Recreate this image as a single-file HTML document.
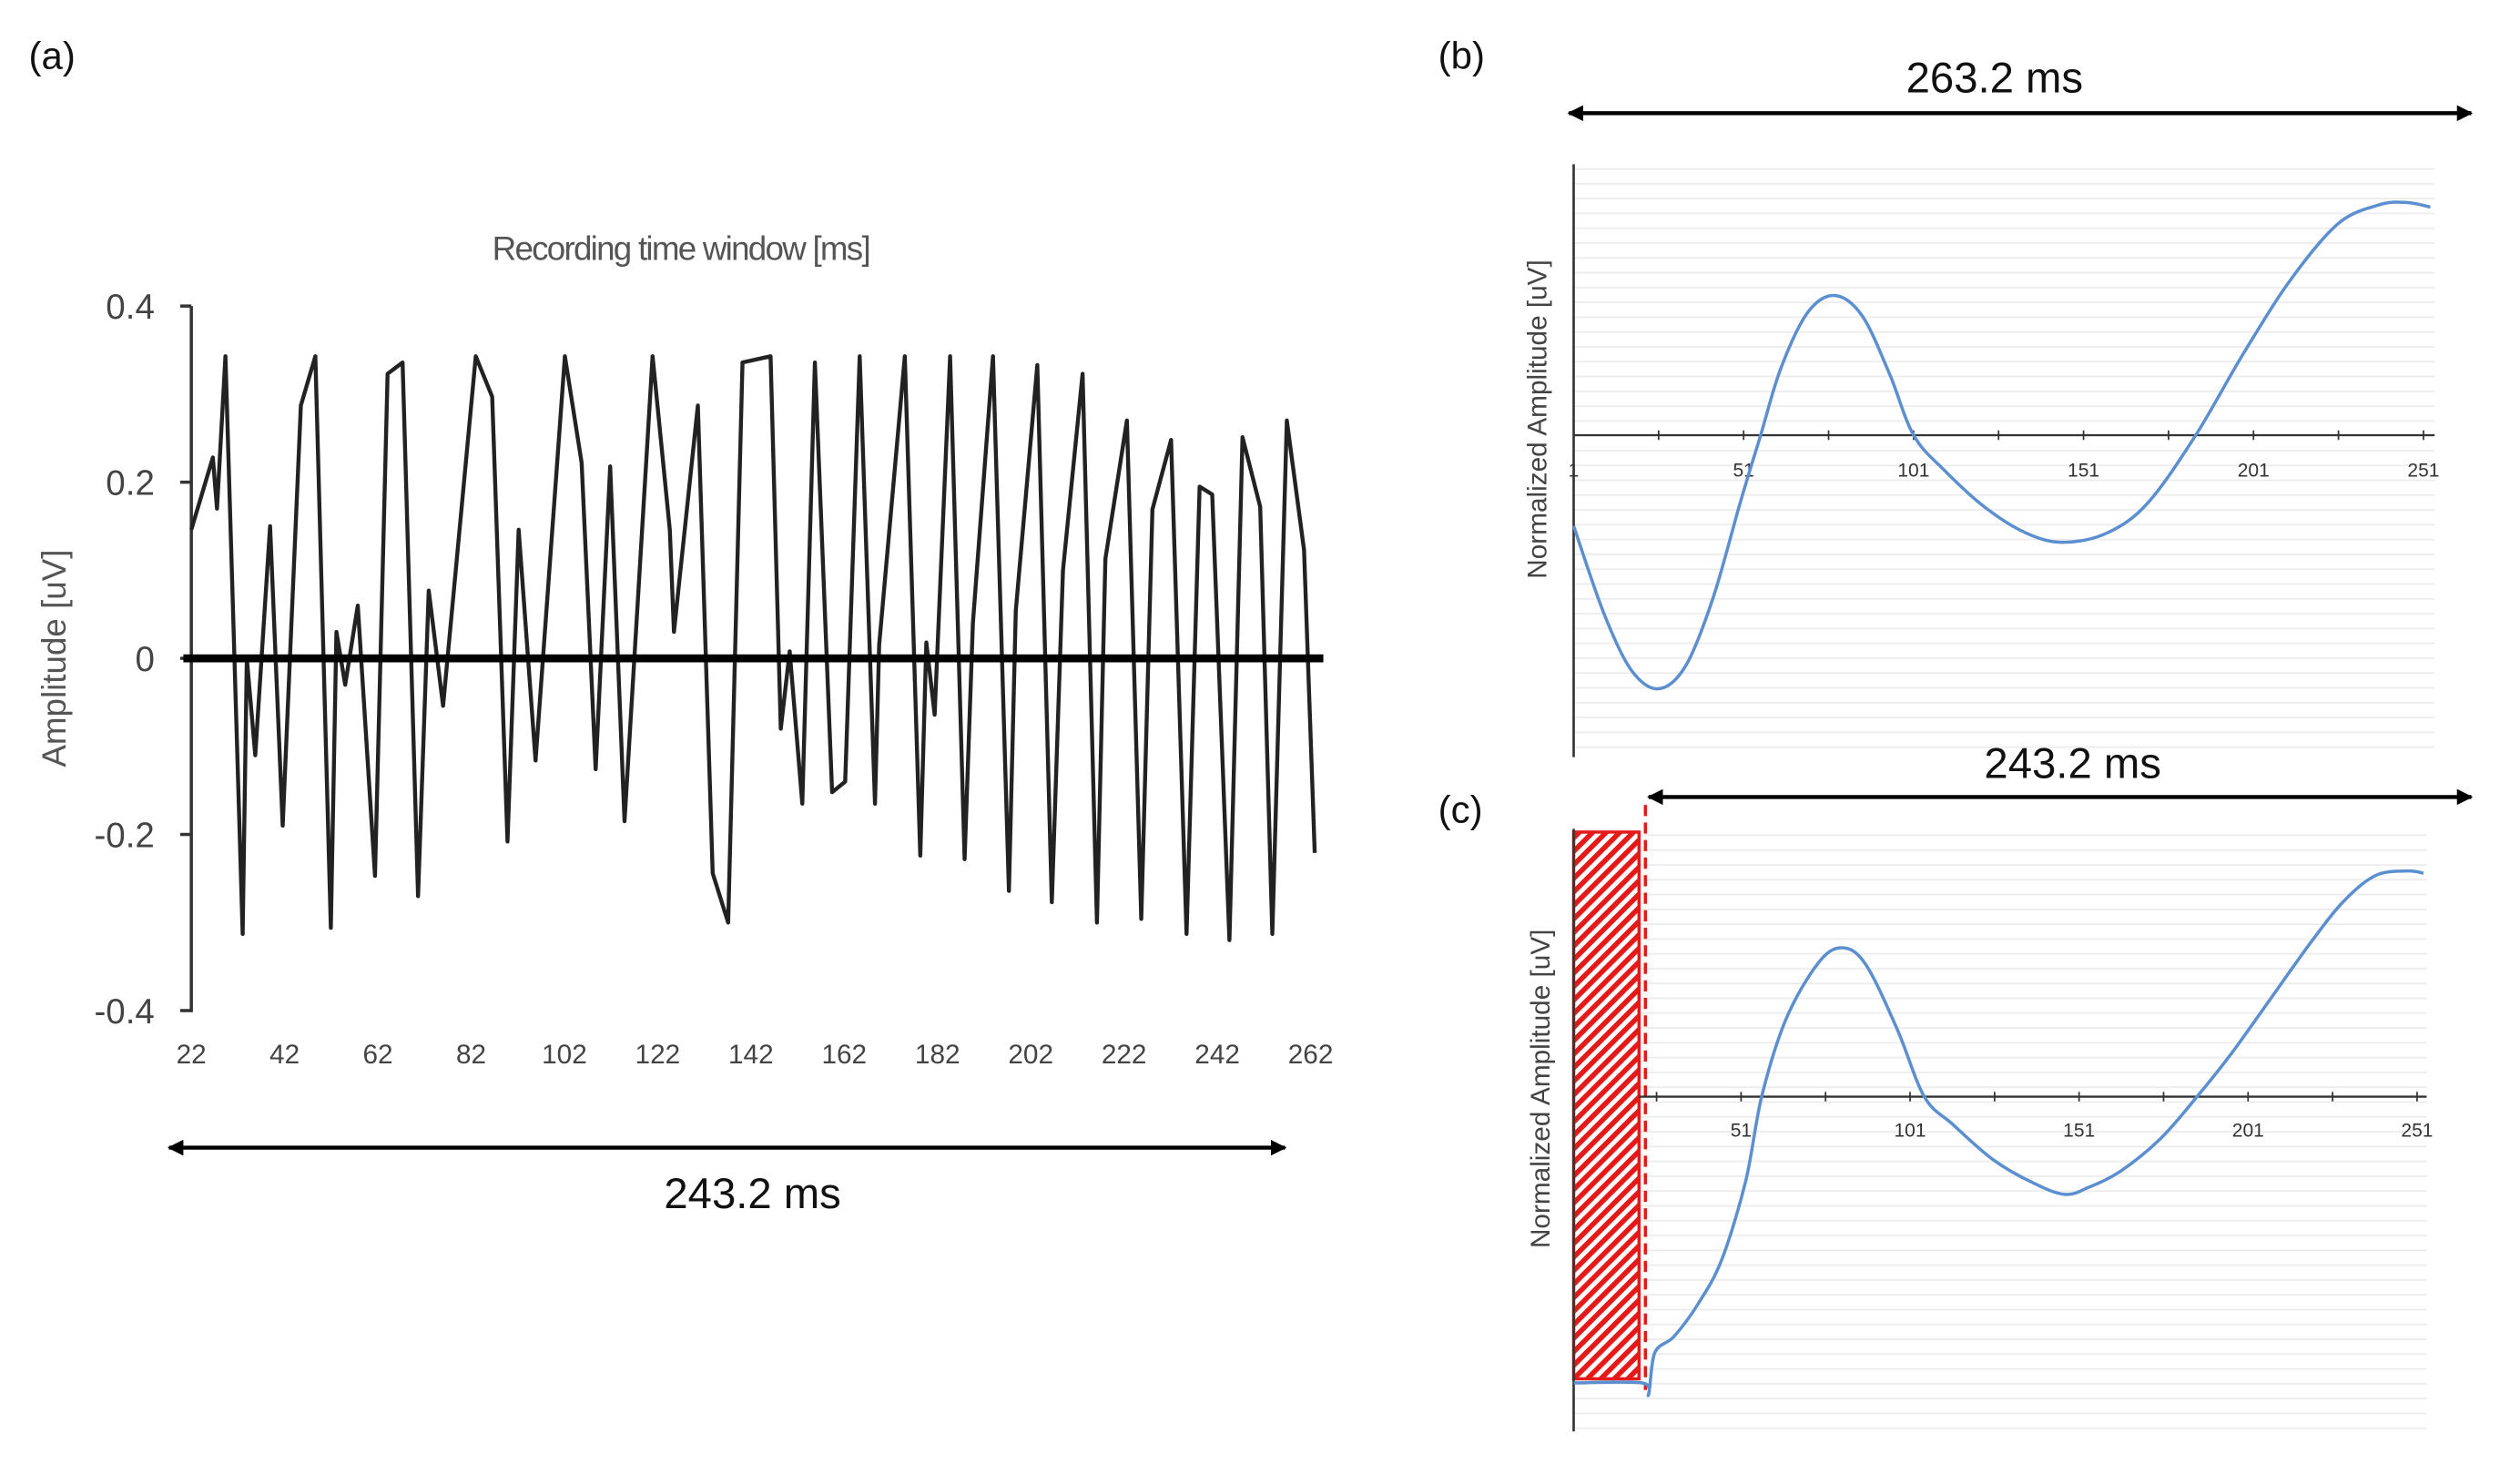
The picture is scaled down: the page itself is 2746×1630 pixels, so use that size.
<!DOCTYPE html>
<html><head><meta charset="utf-8"><style>
html,body{margin:0;padding:0;background:#fff;}
svg{display:block;}
text{font-family:"Liberation Sans",sans-serif;}
</style></head><body>
<svg id="fig" width="2746" height="1630" viewBox="0 0 1568 931" preserveAspectRatio="none" xmlns="http://www.w3.org/2000/svg">
<defs>
<pattern id="hatch" patternUnits="userSpaceOnUse" width="6" height="6" patternTransform="rotate(45)">
<rect width="6" height="6" fill="#fff"/><rect width="3.2" height="6" fill="#e41a1a"/>
</pattern>
<marker id="ah" markerWidth="10" markerHeight="10" refX="9" refY="5" orient="auto-start-reverse" markerUnits="userSpaceOnUse"><path d="M0,0 L10,5 L0,10 z" fill="#000"/></marker>
</defs>
<g id="pa"></g>
<g id="pb"></g>
<g id="pc"></g>
</svg>
<script>
// Panel (a) data: extrema of recorded waveform (time ms, amplitude uV)
const aTimes=[22.0,26.6,27.5,29.3,33.0,33.9,35.7,38.9,41.6,45.5,48.6,51.9,53.1,55.0,57.7,61.4,64.1,67.3,70.6,72.9,76.0,83.0,86.5,89.8,92.2,95.8,102.1,105.7,108.7,111.8,114.9,120.9,124.6,125.5,130.6,133.8,137.1,140.2,146.2,148.4,150.3,153.0,155.7,159.4,162.2,165.3,168.6,169.5,175.0,178.3,179.6,181.4,184.7,187.8,189.6,193.9,197.3,198.8,203.4,206.5,208.9,213.1,216.2,218.0,222.6,225.7,228.1,232.1,235.4,238.2,240.9,244.6,247.4,251.2,253.8,256.9,260.6,262.9];
const aValues=[0.146,0.228,0.17,0.343,-0.313,0,-0.11,0.15,-0.19,0.287,0.343,-0.306,0.03,-0.03,0.06,-0.247,0.323,0.336,-0.27,0.077,-0.054,0.343,0.297,-0.208,0.146,-0.116,0.343,0.222,-0.126,0.218,-0.185,0.343,0.146,0.03,0.287,-0.244,-0.30,0.336,0.343,-0.08,0.008,-0.165,0.336,-0.152,-0.14,0.343,-0.165,0.015,0.343,-0.224,0.018,-0.064,0.343,-0.228,0.04,0.343,-0.264,0.054,0.333,-0.277,0.1,0.323,-0.30,0.113,0.27,-0.296,0.169,0.248,-0.313,0.195,0.186,-0.32,0.251,0.172,-0.313,0.27,0.123,-0.221];
const aXTicks=[22,42,62,82,102,122,142,162,182,202,222,242,262];
const aYTicks=[0.4,0.2,0,-0.2,-0.4];
const aYLabels=["0.4","0.2","0","-0.2","-0.4"];
// Panel (b) data
const bIdx=[1,10,18,26,34,42,50,56,62,70,78,86,94,101,110,122,134,145,158,170,184,198,212,226,238,246,253];
const bVal=[-0.39,-0.77,-1.01,-1.09,-0.99,-0.70,-0.29,0,0.29,0.53,0.60,0.51,0.26,0,-0.15,-0.31,-0.42,-0.46,-0.42,-0.29,0,0.35,0.67,0.91,0.99,1.0,0.98];
// Panel (c) data
const cIdx=[1.5,21.8,23.6,25.5,31.2,38.3,45.3,52.4,57.1,64.2,73.6,80.7,87.8,97.2,105.2,113.7,125.5,137.3,146.8,153.8,163.3,175.1,185.9,196.3,208.1,219.9,229.3,238.7,248.2,252.9];
const cVal=[-1.23,-1.23,-1.28,-1.10,-1.03,-0.89,-0.70,-0.36,0,0.33,0.57,0.64,0.57,0.29,0,-0.12,-0.27,-0.37,-0.42,-0.39,-0.32,-0.18,0,0.19,0.43,0.67,0.84,0.95,0.97,0.96];
const idxTicks=[1,51,101,151,201,251];

const NS="http://www.w3.org/2000/svg";
function mk(parent,tag,attrs,txt){const e=document.createElementNS(NS,tag);for(const k in attrs)e.setAttribute(k,attrs[k]);if(txt!==undefined)e.textContent=txt;parent.appendChild(e);return e;}
function smooth(xs,ys){let s='M'+xs[0]+','+ys[0];for(let i=0;i<xs.length-1;i++){const x0=xs[Math.max(0,i-1)],y0=ys[Math.max(0,i-1)],x1=xs[i],y1=ys[i],x2=xs[i+1],y2=ys[i+1],x3=xs[Math.min(xs.length-1,i+2)],y3=ys[Math.min(xs.length-1,i+2)];s+='C'+(x1+(x2-x0)/6).toFixed(1)+','+(y1+(y2-y0)/6).toFixed(1)+' '+(x2-(x3-x1)/6).toFixed(1)+','+(y2-(y3-y1)/6).toFixed(1)+' '+x2.toFixed(1)+','+y2.toFixed(1);}return s;}

// ---------- Panel A ----------
const pa=document.getElementById('pa');
const ax=t=>120+(t-22)*(702/240);
const ay=v=>413-v*552.5;
let e;
e=mk(pa,'text',{x:18,y:43,'font-size':24,fill:'#111'},'(a)');


e=mk(pa,'text',{x:427,y:163,'font-size':21,fill:'#555','text-anchor':'middle','letter-spacing':'-1'},'Recording time window [ms]');


e=mk(pa,'text',{x:0,y:0,'font-size':21,fill:'#555','text-anchor':'middle',transform:'translate(41,413) rotate(-90)'},'Amplitude [uV]');


e=mk(pa,'line',{x1:120,y1:192,x2:120,y2:635,stroke:'#333','stroke-width':2});


aYTicks.forEach((v,i)=>{
  e=mk(pa,'line',{x1:113,y1:ay(v),x2:120,y2:ay(v),stroke:'#333','stroke-width':2});
  
  
  e=mk(pa,'text',{x:97,y:ay(v)+8,'font-size':22,fill:'#444','text-anchor':'end'},aYLabels[i]);
  
  
});
aXTicks.forEach(t=>{
  e=mk(pa,'text',{x:ax(t),y:667,'font-size':17,fill:'#444','text-anchor':'middle'},String(t));
  
  
});
let d='';
aTimes.forEach((t,i)=>{d+=(i?'L':'M')+ax(t).toFixed(1)+','+ay(aValues[i]).toFixed(1);});
e=mk(pa,'path',{d:d,fill:'none',stroke:'#222','stroke-width':2.5,'stroke-linejoin':'round'});


e=mk(pa,'line',{x1:115,y1:413,x2:830,y2:413,stroke:'#000','stroke-width':5});


e=mk(pa,'line',{x1:106,y1:720,x2:806,y2:720,stroke:'#000','stroke-width':2.5,'marker-start':'url(#ah)','marker-end':'url(#ah)'});


e=mk(pa,'text',{x:472,y:758,'font-size':27,fill:'#111','text-anchor':'middle'},'243.2 ms');



// ---------- Panel B ----------
const pb=document.getElementById('pb');
const bx=i=>987+(i-1)*2.132;
const by=v=>273-v*146;
for(let y=106;y<475;y+=9.3){
  e=mk(pb,'line',{x1:987,y1:y,x2:1527,y2:y,stroke:'#ececec','stroke-width':1});
  
  
}
e=mk(pb,'text',{x:902,y:43,'font-size':24,fill:'#111'},'(b)');


e=mk(pb,'line',{x1:984,y1:71,x2:1550,y2:71,stroke:'#000','stroke-width':2.5,'marker-start':'url(#ah)','marker-end':'url(#ah)'});


e=mk(pb,'text',{x:1251,y:58,'font-size':27,fill:'#111','text-anchor':'middle'},'263.2 ms');


e=mk(pb,'line',{x1:987,y1:103,x2:987,y2:475,stroke:'#333','stroke-width':1.5});


e=mk(pb,'line',{x1:987,y1:273,x2:1527,y2:273,stroke:'#333','stroke-width':1.3});


for(let k=1;k<=251;k+=25){e=mk(pb,'line',{x1:bx(k),y1:270,x2:bx(k),y2:276,stroke:'#333','stroke-width':1});

}
idxTicks.forEach(t=>{
  e=mk(pb,'text',{x:bx(t),y:299,'font-size':12,fill:'#333','text-anchor':'middle'},String(t));
  
  
});
e=mk(pb,'text',{x:0,y:0,'font-size':17,fill:'#444','text-anchor':'middle',transform:'translate(970,263) rotate(-90)'},'Normalized Amplitude [uV]');


e=mk(pb,'path',{d:smooth(bIdx.map(bx),bVal.map(by)),fill:'none',stroke:'#5b8fd0','stroke-width':2});



// ---------- Panel C ----------
const pc=document.getElementById('pc');
const cx=i=>986+(i-1)*2.12;
const cy=v=>688-v*146;
for(let y=524;y<900;y+=9.3){
  e=mk(pc,'line',{x1:987,y1:y,x2:1522,y2:y,stroke:'#ececec','stroke-width':1});
  
  
}
e=mk(pc,'text',{x:902,y:516,'font-size':24,fill:'#111'},'(c)');


e=mk(pc,'line',{x1:1034,y1:500,x2:1550,y2:500,stroke:'#000','stroke-width':2.5,'marker-start':'url(#ah)','marker-end':'url(#ah)'});


e=mk(pc,'text',{x:1300,y:488,'font-size':27,fill:'#111','text-anchor':'middle'},'243.2 ms');


e=mk(pc,'rect',{x:987,y:522,width:41,height:343,fill:'url(#hatch)',stroke:'#e41a1a','stroke-width':2});


e=mk(pc,'line',{x1:1032,y1:505,x2:1032,y2:872,stroke:'#e41a1a','stroke-width':2,'stroke-dasharray':'7,4'});


e=mk(pc,'line',{x1:987,y1:520,x2:987,y2:898,stroke:'#333','stroke-width':1.5});


e=mk(pc,'line',{x1:1028,y1:688,x2:1522,y2:688,stroke:'#333','stroke-width':1.3});


for(let k=26;k<=251;k+=25){e=mk(pc,'line',{x1:cx(k),y1:685,x2:cx(k),y2:691,stroke:'#333','stroke-width':1});

}
idxTicks.slice(1).forEach(t=>{
  e=mk(pc,'text',{x:cx(t),y:713,'font-size':12,fill:'#333','text-anchor':'middle'},String(t));
  
  
});
e=mk(pc,'text',{x:0,y:0,'font-size':17,fill:'#444','text-anchor':'middle',transform:'translate(972,683) rotate(-90)'},'Normalized Amplitude [uV]');


e=mk(pc,'path',{d:smooth(cIdx.map(cx),cVal.map(cy)),fill:'none',stroke:'#5b8fd0','stroke-width':2,'stroke-linejoin':'round'});


</script>
</body></html>
